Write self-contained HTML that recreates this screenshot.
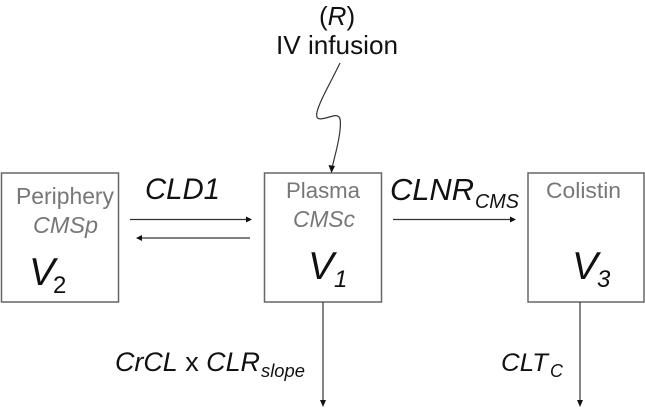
<!DOCTYPE html>
<html>
<head>
<meta charset="utf-8">
<style>
html,body{margin:0;padding:0;background:#fff;width:645px;height:409px;overflow:hidden}
svg{display:block;filter:blur(0.35px)}
text{font-family:"Liberation Sans",Arial,sans-serif;fill:#111}
.g{fill:#777}
.i{font-style:italic}
</style>
</head>
<body>
<svg width="645" height="409" viewBox="0 0 645 409" xmlns="http://www.w3.org/2000/svg">
<g fill="none" stroke="#666" stroke-width="1.5">
<rect x="1.5" y="173" width="117" height="129"/>
<rect x="264.5" y="173" width="117" height="129"/>
<rect x="528" y="173" width="116" height="129"/>
</g>
<g fill="none" stroke="#333" stroke-width="1.2">
<line x1="130" y1="219.5" x2="247" y2="219.5"/>
<line x1="250" y1="238" x2="141" y2="238"/>
<line x1="393" y1="219.5" x2="511" y2="219.5"/>
<line x1="323" y1="302" x2="323" y2="401"/>
<line x1="580" y1="302" x2="580" y2="401"/>
<path d="M340 63 C331 82 320 100 317 112 C315 122 322 119 333 116 C341 114 341 120 340 130 C339 142 335 155 332.500 166"/>
</g>
<g fill="#111">
<polygon points="252,219.500 246,216.500 246,222.500"/>
<polygon points="136,238 142,235 142,241"/>
<polygon points="516,219.500 510,216.500 510,222.500"/>
<polygon points="323,407 320,400 326,400"/>
<polygon points="580,407 577,400 583,400"/>
<polygon points="331.500,173 328.500,165 335,166"/>
</g>

<text class="g" x="16" y="204" font-size="23" textLength="98" lengthAdjust="spacingAndGlyphs">Periphery</text>
<text class="g i" x="33" y="233" font-size="23" textLength="65" lengthAdjust="spacingAndGlyphs">CMSp</text>
<text class="i" x="29" y="285" font-size="39">V</text>
<text x="53" y="293" font-size="24">2</text>

<text class="i" x="145" y="199" font-size="29.500" textLength="75" lengthAdjust="spacingAndGlyphs">CLD1</text>

<text class="g" x="286" y="198" font-size="22.500" textLength="74" lengthAdjust="spacingAndGlyphs">Plasma</text>
<text class="g i" x="293" y="227" font-size="23" textLength="62" lengthAdjust="spacingAndGlyphs">CMSc</text>
<text class="i" x="308" y="279" font-size="39">V</text>
<text class="i" x="334" y="287" font-size="24">1</text>

<text class="i" x="390" y="200" font-size="31" textLength="84" lengthAdjust="spacingAndGlyphs">CLNR</text>
<text class="i" x="475" y="208" font-size="20" textLength="44" lengthAdjust="spacingAndGlyphs">CMS</text>

<text class="g" x="546" y="198" font-size="22.500" textLength="75" lengthAdjust="spacingAndGlyphs">Colistin</text>
<text class="i" x="572" y="279" font-size="39">V</text>
<text class="i" x="597" y="287" font-size="24">3</text>

<text x="319" y="25" font-size="26">(<tspan class="i">R</tspan>)</text>
<text x="276" y="54" font-size="26" textLength="122" lengthAdjust="spacingAndGlyphs">IV infusion</text>

<text x="115" y="371" font-size="27" textLength="145" lengthAdjust="spacingAndGlyphs"><tspan class="i">CrCL</tspan> x <tspan class="i">CLR</tspan></text>
<text class="i" x="261" y="377" font-size="18.500" textLength="44" lengthAdjust="spacingAndGlyphs">slope</text>

<text class="i" x="501" y="371" font-size="25" textLength="47" lengthAdjust="spacingAndGlyphs">CLT</text>
<text class="i" x="550" y="377" font-size="18" textLength="13" lengthAdjust="spacingAndGlyphs">C</text>
</svg>
</body>
</html>
